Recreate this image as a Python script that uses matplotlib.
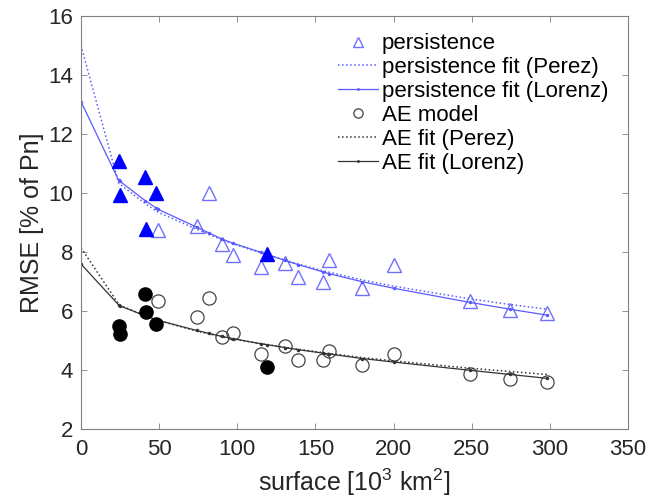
import matplotlib
matplotlib.use("Agg")
import matplotlib.pyplot as plt

plt.rcParams['font.family'] = ['Liberation Sans', 'DejaVu Sans']
plt.rcParams['mathtext.fontset'] = 'custom'
plt.rcParams['mathtext.rm'] = 'Liberation Sans'

# filled markers (subset of regions)
x_filled = [24, 25, 41, 41.5, 48, 119]
pers_filled = [11.1, 9.93, 10.55, 8.8, 10.0, 7.95]
ae_filled = [5.5, 5.22, 6.6, 5.98, 5.57, 4.12]

# open markers
x_open = [49.5, 74, 82, 90, 97.5, 115, 130.5, 139, 155, 159, 180, 200, 249, 274.5, 298]
pers_open = [8.75, 8.9, 10.0, 8.27, 7.9, 7.5, 7.65, 7.15, 7.0, 7.73, 6.8, 7.58, 6.35, 6.03, 5.95]
ae_open = [6.35, 5.82, 6.45, 5.12, 5.26, 4.55, 4.82, 4.35, 4.35, 4.66, 4.18, 4.55, 3.87, 3.7, 3.61]

# fitted curves evaluated at the surfaces
x_fit = [0, 24, 25, 41, 48, 49.5, 74, 82, 90, 97.5, 115, 119, 130.5, 139, 155, 159, 180, 200, 249, 274.5, 298]
pers_fit_perez = [15.0, 10.35, 10.3, 9.65, 9.4, 9.35, 8.78, 8.6, 8.42, 8.28, 7.98, 7.92, 7.73, 7.6, 7.37, 7.32, 7.06, 6.85, 6.42, 6.23, 6.07]
pers_fit_lorenz = [13.1, 10.45, 10.4, 9.75, 9.5, 9.45, 8.85, 8.65, 8.45, 8.3, 8.0, 7.93, 7.72, 7.58, 7.33, 7.27, 7.0, 6.78, 6.3, 6.07, 5.87]
ae_fit_perez = [8.15, 6.25, 6.2, 5.85, 5.72, 5.69, 5.33, 5.23, 5.14, 5.06, 4.9, 4.87, 4.78, 4.71, 4.6, 4.57, 4.43, 4.32, 4.07, 3.96, 3.86]
ae_fit_lorenz = [7.6, 6.22, 6.18, 5.85, 5.72, 5.69, 5.35, 5.25, 5.15, 5.07, 4.9, 4.87, 4.77, 4.7, 4.58, 4.55, 4.4, 4.28, 4.0, 3.86, 3.73]

xticks = [0, 50, 100, 150, 200, 250, 300, 350]
yticks = [2, 4, 6, 8, 10, 12, 14, 16]

fig = plt.figure(figsize=(6.48, 5.01), dpi=100)
ax = fig.add_axes([0.125, 0.143, 0.844, 0.825])

light_blue = '#7070ff'
line_blue = '#5a5aff'
gray = '#444444'

ax.plot(x_open, pers_open, linestyle='none', marker='^', markersize=10,
        markerfacecolor='none', markeredgecolor=light_blue, markeredgewidth=1.0,
        label='persistence')
ax.plot(x_fit, pers_fit_perez, linestyle=':', color=line_blue, linewidth=1.1,
        label='persistence fit (Perez)')
ax.plot(x_fit, pers_fit_lorenz, linestyle='-', color=line_blue, linewidth=0.9,
        marker='.', markersize=3, label='persistence fit (Lorenz)')
ax.plot(x_open, ae_open, linestyle='none', marker='o', markersize=9.5,
        markerfacecolor='none', markeredgecolor=gray, markeredgewidth=0.9,
        label='AE model')
ax.plot(x_fit, ae_fit_perez, linestyle=':', color='#333333', linewidth=1.1,
        label='AE fit (Perez)')
ax.plot(x_fit, ae_fit_lorenz, linestyle='-', color='#333333', linewidth=0.9,
        marker='.', markersize=3, label='AE fit (Lorenz)')

ax.plot(x_filled, pers_filled, linestyle='none', marker='^', markersize=10,
        color='#0000ff')
ax.plot(x_filled, ae_filled, linestyle='none', marker='o', markersize=9.5,
        color='black')

ax.set_xlim(0, 350)
ax.set_ylim(2, 16)
ax.set_xticks(xticks)
ax.set_yticks(yticks)
for s in ax.spines.values():
    s.set_color('#808080')
    s.set_linewidth(0.8)
ax.tick_params(direction='in', top=True, right=True, length=4, width=0.6,
               color='#808080', labelsize=16, labelcolor='#262626')
ax.tick_params(axis='x', pad=7)
ax.tick_params(axis='y', pad=5.5)
ax.set_xlabel('surface [10$^3$ km$^2$]', fontsize=18, color='#262626', labelpad=5)
ax.set_ylabel('RMSE [% of Pn]', fontsize=18, color='#262626', labelpad=3)

leg = ax.legend(loc='upper left', bbox_to_anchor=(0.45, 0.985), frameon=False,
                fontsize=16, handlelength=1.8, handletextpad=0.15,
                labelspacing=0.13, markerscale=0.7, numpoints=1, borderpad=0)

fig.savefig('out.png', dpi=100)
